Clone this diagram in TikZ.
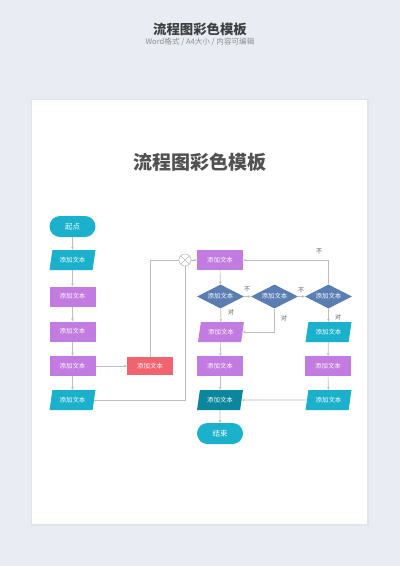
\documentclass[tikz,border=0pt]{standalone}
\usepackage{fontspec}
\setmainfont{Noto Sans CJK SC}
\usetikzlibrary{shapes.geometric,arrows.meta}
\definecolor{bg}{HTML}{E9EDF3}
\definecolor{cyanc}{HTML}{1BB0CB}
\definecolor{purp}{HTML}{C27BE0}
\definecolor{redc}{HTML}{F1636F}
\definecolor{dia}{HTML}{5A7DB2}
\definecolor{dteal}{HTML}{0A869F}
\definecolor{lnc}{HTML}{BDBDBD}
\definecolor{ttl}{HTML}{3F3F3F}
\definecolor{sub}{HTML}{8C8C8C}
\definecolor{lbl}{HTML}{555555}
\definecolor{shd}{HTML}{E0E4EA}
\begin{document}
\begin{tikzpicture}[x=1pt,y=-1pt,
  boxtxt/.style={text=white,font=\fontsize{6.4}{7}\selectfont,inner sep=0pt},
  rectbox/.style={boxtxt,rectangle,fill=purp,minimum width=46pt,minimum height=20pt},
  parabox/.style={boxtxt,trapezium,trapezium left angle=64,trapezium right angle=116,
     trapezium stretches body=true,fill=cyanc,minimum width=46pt,minimum height=20pt},
  termbox/.style={boxtxt,rectangle,rounded corners=10.5pt,fill=cyanc,minimum width=46pt,
     minimum height=21pt,font=\fontsize{7.5}{8}\selectfont},
  diabox/.style={boxtxt,diamond,fill=dia,minimum width=47pt,minimum height=24pt,aspect=2},
  conn/.style={draw=lnc,line width=0.6pt},
  arr/.style={conn,-{Stealth[length=3pt,width=2.6pt]}},
  lab/.style={text=lbl,font=\fontsize{6}{7}\selectfont,inner sep=0pt}]
\useasboundingbox (0,0) rectangle (400,566);
\fill[bg] (0,0) rectangle (400,566);
\fill[shd] (30.5,98.5) rectangle (368.5,526);
\fill[white] (32,100) rectangle (367,524);
\node[text=ttl,font=\fontsize{13.4}{14}\selectfont\bfseries] (ttop) at (200,29) {流程图彩色模板};
\node[text=sub,font=\fontsize{7.6}{8}\selectfont] (tsub) at (200,42) {Word格式 / A4大小 / 内容可编辑};
\node[text=ttl!90,font=\fontsize{19}{20}\selectfont\bfseries] (tin) at (200,162) {流程图彩色模板};
% left column
\node[termbox] (start) at (72.5,226.5) {起点};
\node[parabox] (p1) at (72.5,260) {添加文本};
\node[rectbox] (r2) at (72.5,296.5) {添加文本};
\node[rectbox] (r3) at (72.5,331.5) {添加文本};
\node[rectbox] (r4) at (72.5,366) {添加文本};
\node[parabox] (p5) at (72.5,400) {添加文本};
\node[rectbox,fill=redc,minimum height=18pt] (red) at (150,366) {添加文本};
\node[circle,draw=lnc,line width=0.6pt,fill=white,minimum size=12pt,inner sep=0pt,
  path picture={\draw[lnc,line width=0.6pt] (path picture bounding box.north west) -- (path picture bounding box.south east)
  (path picture bounding box.north east) -- (path picture bounding box.south west);}] (xc) at (185,260) {};
% middle column
\node[rectbox] (ra) at (220,260) {添加文本};
\node[diabox] (d1) at (220.5,296.5) {添加文本};
\node[diabox] (d2) at (274.5,296.5) {添加文本};
\node[diabox] (d3) at (328.5,296.5) {添加文本};
\node[parabox,fill=purp] (pp) at (221,332) {添加文本};
\node[rectbox] (rb) at (220,366) {添加文本};
\node[parabox,fill=dteal] (dp) at (220,400) {添加文本};
\node[termbox] (fin) at (220,433.5) {结束};
% right column
\node[parabox] (q1) at (328.5,332) {添加文本};
\node[rectbox] (q2) at (328,366) {添加文本};
\node[parabox] (q3) at (328.5,400) {添加文本};
% connectors
\draw[arr] (start) -- (p1);
\draw[arr] (p1) -- (r2);
\draw[arr] (r2) -- (r3);
\draw[arr] (r3) -- (r4);
\draw[arr] (r4) -- (p5);
\draw[arr] (r4) -- (red);
\draw[conn] (red.north) |- (xc.west);
\draw[conn] (p5.east) -| (xc.south);
\draw[arr] (xc.east) -- (ra.west);
\draw[arr] (ra) -- (d1);
\draw[arr] (d1) -- (d2);
\draw[arr] (d2) -- (d3);
\draw[arr] (d3.north) |- (ra.east);
\draw[arr] (d1) -- (pp);
\draw[arr] (d2.south) |- (pp.east);
\draw[arr] (d3) -- (q1);
\draw[arr] (q1) -- (q2);
\draw[arr] (q2) -- (q3);
\draw[arr] (q3) -- (dp);
\draw[arr] (pp) -- (rb);
\draw[arr] (rb) -- (dp);
\draw[arr] (dp) -- (fin);
% labels
\node[lab] (n1) at (247,289) {不};
\node[lab] (n2) at (301,290) {不};
\node[lab] (n3) at (319,251) {不};
\node[lab] (y1) at (231,312) {对};
\node[lab] (y2) at (284,318) {对};
\node[lab] (y3) at (338,317) {对};
\end{tikzpicture}
\end{document}
